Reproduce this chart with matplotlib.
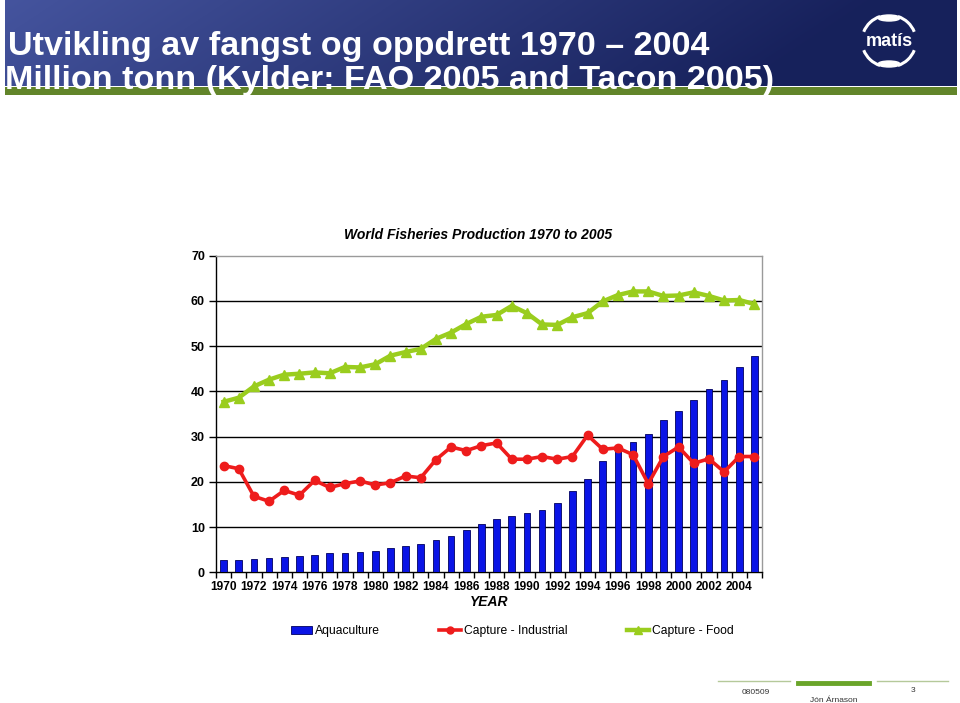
import numpy as np
import matplotlib
matplotlib.use("Agg")
import matplotlib.pyplot as plt
from matplotlib.lines import Line2D
from matplotlib.patches import Patch, Rectangle, Arc, Ellipse

plt.rcParams['font.family'] = ['Liberation Sans', 'DejaVu Sans']

# ----------------------------
# Data (million tonnes)
# ----------------------------
years = list(range(1970, 2006))
aquaculture = [2.7, 2.7, 2.95, 3.1, 3.3, 3.6, 3.8, 4.2, 4.2, 4.4,
               4.65, 5.3, 5.8, 6.2, 7.1, 8.0, 9.3, 10.6, 11.7, 12.4,
               13.1, 13.7, 15.4, 17.9, 20.7, 24.7, 27.2, 28.8, 30.6, 33.7,
               35.7, 38.1, 40.5, 42.6, 45.4, 47.9]
capture_industrial = [23.6, 22.9, 16.8, 15.7, 18.1, 17.05, 20.3, 18.75, 19.6, 20.2,
                      19.3, 19.8, 21.3, 20.9, 24.9, 27.7, 26.9, 28.0, 28.6, 25.0,
                      25.0, 25.6, 25.0, 25.6, 30.3, 27.2, 27.5, 26.0, 19.6, 25.6,
                      27.7, 24.1, 25.1, 22.2, 25.6, 25.6]
capture_food = [37.7, 38.6, 41.1, 42.6, 43.7, 43.9, 44.2, 44.0, 45.4, 45.3,
                46.0, 47.9, 48.7, 49.4, 51.6, 53.0, 54.9, 56.5, 56.9, 58.9,
                57.3, 54.8, 54.7, 56.4, 57.3, 59.9, 61.3, 62.1, 62.1, 61.1,
                61.2, 61.9, 61.1, 60.1, 60.2, 59.3]
y_ticks = [0, 10, 20, 30, 40, 50, 60, 70]

slide_title_1 = "Utvikling av fangst og oppdrett 1970 \u2013 2004"
slide_title_2 = "Million tonn (Kylder: FAO 2005 and Tacon 2005)"
chart_title = "World Fisheries Production 1970 to 2005"

BLUE = '#0a14e6'
RED = '#ee1c1c'
GREEN = '#9acd1e'

fig = plt.figure(figsize=(9.6, 7.03), dpi=100)
fig.patch.set_facecolor('white')

# ----------------------------
# Header banner
# ----------------------------
ax_b = fig.add_axes([5 / 960, 1 - 95 / 703, 952 / 960, 95 / 703])
ax_b.set_xlim(0, 952)
ax_b.set_ylim(95, 0)
ax_b.axis('off')

gx = np.linspace(0, 1, 400)
gy = np.linspace(0, 1, 60)
GX, GY = np.meshgrid(gx, gy)
t = np.clip(GX * 1.1 + GY * 0.15, 0, 1)
c_left = np.array([0.27, 0.33, 0.62])
c_right = np.array([0.09, 0.13, 0.36])
img = c_left[None, None, :] * (1 - t[..., None]) + c_right[None, None, :] * t[..., None]
ax_b.imshow(img, extent=(0, 952, 86.5, 0), aspect='auto', zorder=0)
ax_b.add_patch(Rectangle((0, 86.5), 952, 8.5, color='#62852a', zorder=1, lw=0))

ax_b.text(3, 55, slide_title_1, color='white', fontsize=24.6, fontweight='bold',
          va='baseline', ha='left', zorder=3)
ax_b.text(0, 89, slide_title_2, color='white', fontsize=24.6, fontweight='bold',
          va='baseline', ha='left', zorder=3)

# logo
cx, cy = 884, 41
ax_b.text(cx, cy + 1, "mat\u00eds", color='white', fontsize=13, fontweight='bold',
          ha='center', va='center', zorder=4)
ax_b.add_patch(Ellipse((cx, cy - 23), 22, 6, color='white', zorder=4))
ax_b.add_patch(Ellipse((cx, cy + 23), 22, 6, color='white', zorder=4))
for a1, a2 in [(110, 160), (200, 250), (290, 340), (20, 70)]:
    ax_b.add_patch(Arc((cx, cy), 54, 52, theta1=a1, theta2=a2, color='white', lw=2.2, zorder=4))

# ----------------------------
# Chart
# ----------------------------
ax = fig.add_axes([216 / 960, 1 - 572.3 / 703, 546 / 960, 316.6 / 703])
x = np.arange(len(years))

ax.bar(x, aquaculture, width=0.45, color=BLUE, edgecolor='#000060', linewidth=0.6, zorder=3)
ax.plot(x, capture_industrial, color=RED, lw=2.6, marker='o', ms=6, zorder=4)
ax.plot(x, capture_food, color=GREEN, lw=3.2, marker='^', ms=7, zorder=5)

ax.set_xlim(-0.5, len(years) - 0.5)
ax.set_ylim(0, 70)
ax.set_yticks(y_ticks)
ax.set_yticklabels([str(v) for v in y_ticks], fontsize=9, fontweight='bold')
for v in y_ticks[1:-1]:
    ax.axhline(v, color='black', lw=1.0, zorder=1)

ax.set_xticks(np.arange(len(years) + 1) - 0.5)
ax.set_xticklabels([])
ax.set_xticks(x[::2], minor=True)
ax.set_xticklabels([str(y) for y in years[::2]], minor=True, fontsize=8.6, fontweight='bold')
ax.tick_params(axis='x', which='major', direction='out', length=4, width=1, color='black')
ax.tick_params(axis='x', which='minor', length=0, pad=6)
ax.tick_params(axis='y', direction='out', length=5, width=1, pad=3)

ax.spines['left'].set_color('black')
ax.spines['bottom'].set_color('black')
ax.spines['top'].set_color('#9a9a9a')
ax.spines['right'].set_color('#9a9a9a')
for s in ax.spines.values():
    s.set_linewidth(1.0)

ax.set_xlabel("YEAR", fontsize=10, fontweight='bold', fontstyle='italic', labelpad=2)
fig.text(478 / 960, 1 - 235 / 703, chart_title, fontsize=10, fontweight='bold',
         fontstyle='italic', ha='center', va='center')

handles = [
    Patch(facecolor=BLUE, edgecolor='#000060', linewidth=0.6),
    Line2D([], [], color=RED, lw=2.6, marker='o', ms=5),
    Line2D([], [], color=GREEN, lw=3.2, marker='^', ms=6),
]
fig.legend(handles, ["Aquaculture", "Capture - Industrial", "Capture - Food"],
           loc='center', bbox_to_anchor=(512 / 960, 1 - 631 / 703), ncol=3,
           frameon=False, fontsize=8.7, handlelength=1.8, handletextpad=0.25,
           columnspacing=4.9)

# ----------------------------
# Footer
# ----------------------------
def fig_line(x0, x1, y, color, lw):
    fig.add_artist(Line2D([x0 / 960, x1 / 960], [1 - y / 703, 1 - y / 703],
                          color=color, lw=lw, transform=fig.transFigure))

fig_line(718, 790, 681, '#b5c99a', 1.0)
fig_line(798, 869, 682.5, '#6aa52a', 3.5)
fig_line(877, 948, 681, '#b5c99a', 1.0)
fig.text(756 / 960, 1 - 692 / 703, "080509", fontsize=6, ha='center', va='center', color='#333333')
fig.text(834 / 960, 1 - 700 / 703, "J\u00f3n \u00c1rnason", fontsize=6, ha='center', va='center', color='#333333')
fig.text(913 / 960, 1 - 690 / 703, "3", fontsize=6, ha='center', va='center', color='#333333')

fig.savefig("out.png", dpi=100, facecolor='white')
